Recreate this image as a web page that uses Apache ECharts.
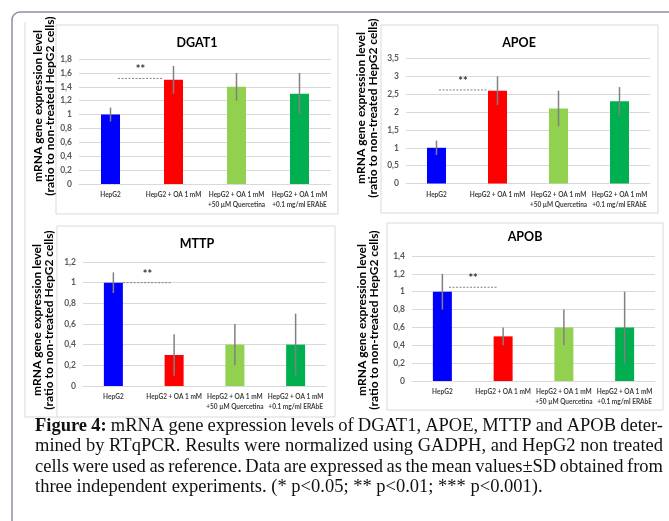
<!DOCTYPE html>
<html><head><meta charset="utf-8">
<script src="https://cdn.jsdelivr.net/npm/echarts@6/dist/echarts.min.js"></script>
<style>html,body{margin:0;padding:0;background:#fff}#c{width:669px;height:521px}</style>
</head><body><div id="c"></div>
<script>
const categories = ['HepG2', 'HepG2 + OA 1 mM', 'HepG2 + OA 1 mM\n+50 µM Quercetina', 'HepG2 + OA 1 mM\n+0.1 mg/ml ERAbE'];
const genes = ['DGAT1', 'APOE', 'MTTP', 'APOB'];
const dgat1Mean = [1.0, 1.5, 1.4, 1.3];
const dgat1Sd   = [0.1, 0.2, 0.2, 0.3];
const apoeMean  = [1.0, 2.6, 2.1, 2.3];
const apoeSd    = [0.2, 0.4, 0.5, 0.4];
const mttpMean  = [1.0, 0.3, 0.4, 0.4];
const mttpSd    = [0.1, 0.2, 0.2, 0.3];
const apobMean  = [1.0, 0.5, 0.6, 0.6];
const apobSd    = [0.2, 0.1, 0.2, 0.4];
const yMax  = [1.8, 3.5, 1.2, 1.4];
const yStep = [0.2, 0.5, 0.2, 0.2];
const sigLevel = [1.52, 2.62, 1.0, 1.05];
const sigText  = ['**', '**', '**', '**'];
const yTitle = 'mRNA gene expression level\n(ratio to non-treated HepG2 cells)';
const captionBold = 'Figure 4:';
const captionLines = [
  'mRNA gene expression levels of DGAT1, APOE, MTTP and APOB deter-',
  'mined by RTqPCR. Results were normalized using GADPH, and HepG2 non treated',
  'cells were used as reference. Data are expressed as the mean values±SD obtained from',
  'three independent experiments. (* p<0.05; ** p<0.01; *** p<0.001).'
];

const means = [dgat1Mean, apoeMean, mttpMean, apobMean];
const sds = [dgat1Sd, apoeSd, mttpSd, apobSd];
const barColors = ['#0000FF', '#FF0000', '#92D050', '#00B050'];

// layout (panel geometry)
const grids = [
  {left: 79, top: 59, width: 252, height: 125},
  {left: 406, top: 58.5, width: 244, height: 125},
  {left: 83, top: 262, width: 243, height: 124},
  {left: 412, top: 256, width: 243, height: 125}
];
const boxes = [
  {x: 56, y: 25, w: 282, h: 189},
  {x: 381, y: 25, w: 277, h: 188},
  {x: 57, y: 226, w: 278, h: 191},
  {x: 387, y: 223, w: 276, h: 187}
];
const titlePos = [[197, 43], [519, 43], [197, 244], [525, 237]];
const yTitlePos = [[44, 106], [367, 108], [43, 320], [368, 320]];
const sigSpan = [[0.12, 0.83], [0.04, 0.83], [0.16, 0.96], [0.11, 0.9]];

const FONT = 'Lato, "Open Sans", sans-serif';
const SERIF = '"Liberation Serif", "Times New Roman", serif';
const fmt = v => String(Math.round(v * 10) / 10).replace('.', ',');

const option = {
  animation: false,
  backgroundColor: '#fff',
  grid: grids.map(g => Object.assign({containLabel: false}, g)),
  xAxis: genes.map((g, i) => ({
    type: 'category', gridIndex: i, data: categories,
    axisLine: {lineStyle: {color: '#d9d9d9'}},
    axisTick: {show: false},
    axisLabel: {interval: 0, fontSize: 6.5, fontWeight: 'bold', color: '#404040', fontFamily: FONT, lineHeight: 10, margin: 6}
  })),
  yAxis: genes.map((g, i) => ({
    type: 'value', gridIndex: i, min: 0, max: yMax[i], interval: yStep[i],
    axisLine: {show: false}, axisTick: {show: false},
    splitLine: {lineStyle: {color: '#d9d9d9', width: 1}},
    axisLabel: {formatter: fmt, fontSize: 8.5, fontWeight: 'bold', color: '#595959', fontFamily: FONT, margin: 7}
  })),
  series: [],
  graphic: []
};

genes.forEach((g, i) => {
  option.series.push({
    type: 'bar', xAxisIndex: i, yAxisIndex: i, barWidth: 19,
    data: means[i].map((v, k) => ({value: v, itemStyle: {color: barColors[k]}}))
  });
  option.series.push({
    type: 'custom', xAxisIndex: i, yAxisIndex: i, z: 5,
    data: means[i].map((v, k) => [k, v - sds[i][k], v + sds[i][k]]),
    renderItem: (params, api) => {
      const lo = api.coord([api.value(0), api.value(1)]);
      const hi = api.coord([api.value(0), api.value(2)]);
      return {type: 'line', shape: {x1: lo[0], y1: lo[1], x2: hi[0], y2: hi[1]},
        style: {stroke: '#808080', lineWidth: 1.5}};
    }
  });
  option.series.push({
    type: 'custom', xAxisIndex: i, yAxisIndex: i, z: 6,
    data: [[0, sigLevel[i]]],
    renderItem: (params, api) => {
      const p = api.coord([0, api.value(1)]);
      const bw = api.size([1, 0])[0];
      const x1 = p[0] + sigSpan[i][0] * bw, x2 = p[0] + sigSpan[i][1] * bw;
      return {type: 'group', children: [
        {type: 'line', shape: {x1: x1, y1: p[1], x2: x2, y2: p[1]},
          style: {stroke: '#808080', lineWidth: 1, lineDash: [2, 1.5]}},
        {type: 'text', x: (x1 + x2) / 2, y: p[1] - 3,
          style: {text: sigText[i], font: 'bold 11px ' + FONT, fill: '#333', align: 'center', verticalAlign: 'bottom'}}
      ]};
    }
  });
  const b = boxes[i];
  option.graphic.push({type: 'rect', z: -1, shape: {x: b.x, y: b.y, width: b.w, height: b.h},
    style: {fill: '#fff', stroke: '#d9d9d9', lineWidth: 1}});
  option.graphic.push({type: 'text', x: titlePos[i][0], y: titlePos[i][1],
    style: {text: g, font: 'bold 12.5px ' + FONT, fill: '#000', align: 'center', verticalAlign: 'middle'}});
  option.graphic.push({type: 'text', x: yTitlePos[i][0], y: yTitlePos[i][1], rotation: Math.PI / 2,
    style: {text: yTitle, font: 'bold 12px ' + FONT, fill: '#000', align: 'center', verticalAlign: 'middle', lineHeight: 12}});
});

// outer frames
option.graphic.push({type: 'rect', z: -2, shape: {x: 12, y: 12, width: 720, height: 600, r: 8},
  style: {fill: '#fff', stroke: '#8f8db5', lineWidth: 1.5}});
option.graphic.push({type: 'polyline', z: -1, shape: {points: [[25, 22], [25, 417], [57, 417]]},
  style: {fill: null, stroke: '#d9d9d9', lineWidth: 1}});

// caption, justified lines (last line left-aligned)
const capSize = 18.5, capLeft = 35, capRight = 663;
const ctx = document.createElement('canvas').getContext('2d');
captionLines.forEach((ln, j) => {
  const words = ln.split(' ').map(t => ({t: t, bold: false}));
  if (j === 0) words.unshift({t: captionBold.split(' ')[0], bold: true}, {t: captionBold.split(' ')[1], bold: true});
  const widths = words.map(w => {
    ctx.font = (w.bold ? 'bold ' : '') + capSize + 'px ' + SERIF;
    return ctx.measureText(w.t).width;
  });
  ctx.font = capSize + 'px ' + SERIF;
  const spaceW = ctx.measureText(' ').width;
  const total = widths.reduce((a, b) => a + b, 0);
  const justify = j < captionLines.length - 1;
  const gap = justify ? (capRight - capLeft - total) / (words.length - 1) : spaceW;
  let x = capLeft;
  const y = 426 + j * 20.5;
  words.forEach((w, k) => {
    option.graphic.push({type: 'text', x: x, y: y,
      style: {text: w.t, font: (w.bold ? 'bold ' : '') + capSize + 'px ' + SERIF, fill: '#111', verticalAlign: 'middle'}});
    x += widths[k] + gap;
  });
});

const chart = echarts.init(document.getElementById('c'), null, {renderer: 'canvas'});
chart.setOption(option);
</script></body></html>
